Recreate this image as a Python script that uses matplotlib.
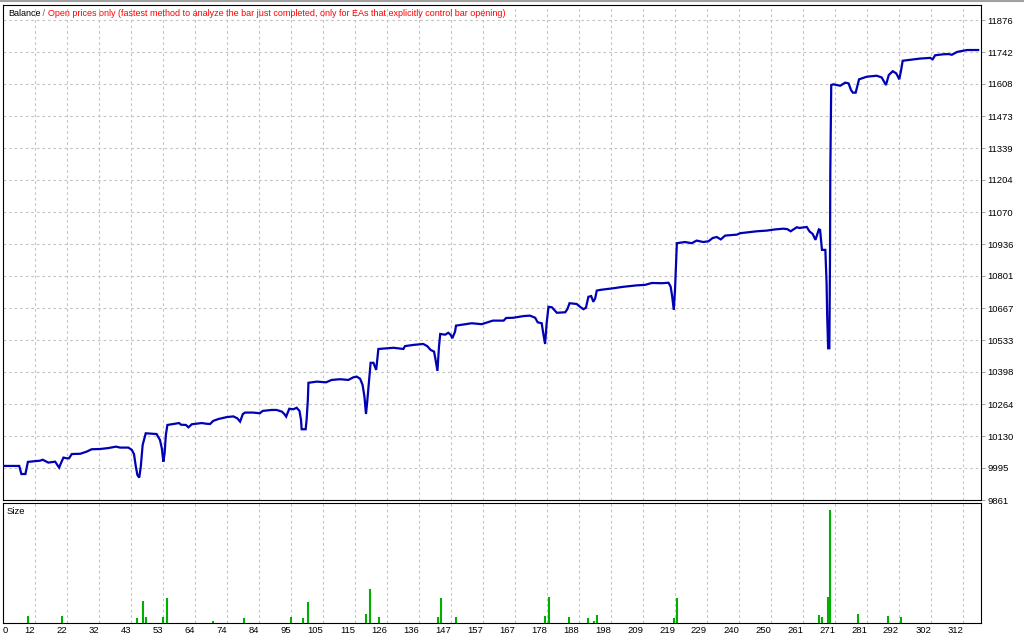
import matplotlib
matplotlib.use("Agg")
import matplotlib.pyplot as plt
from matplotlib.lines import Line2D
from matplotlib import font_manager

# ---------------- data ----------------
trade_idx = [0, 3.9, 6.9, 7.6, 8.9, 9.7, 13.6, 14.5, 16.3, 18.5, 19.8, 20.4, 21.2, 22.3, 23.0, 23.9,
             26.6, 28.7, 30.3, 33.0, 35.7, 38.2, 39.5, 42.2, 43.3, 44.0, 44.6, 45.1, 45.7, 46.2,
             46.8, 47.8, 51.3, 52.4, 53.0, 53.5, 53.9, 54.3, 54.8, 56.7, 58.6, 59.2, 60.8, 61.6,
             62.7, 65.9, 67.5, 68.6, 69.6, 71.3, 74.0, 76.1, 77.4, 78.3, 79.2, 79.9, 82.6, 84.7,
             85.6, 88.5, 90.1, 91.8, 92.6, 93.2, 94.2, 95.5, 96.6, 97.5, 98.0, 98.2, 99.5, 99.8,
             100.2, 100.4, 103.1, 106.1, 107.9, 110.6, 113.3, 114.9, 116.0, 117.1, 117.9, 118.5,
             119.0, 119.4, 120.1, 120.5, 121.4, 122.3, 122.7, 123.0, 126.2, 127.9, 131.1, 131.6,
             134.3, 137.5, 138.8, 139.9, 141.0, 141.5, 142.1, 142.6, 143.0, 144.6, 145.6, 146.4,
             146.9, 147.8, 148.1, 153.2, 156.4, 157.8, 160.0, 163.5, 164.3, 166.6, 169.9, 172.0,
             173.7, 174.5, 175.8, 176.3, 176.9, 177.4, 178.0, 179.1, 180.7, 183.4, 184.1, 184.8,
             187.1, 188.2, 189.3, 190.1, 190.9, 191.8, 192.5, 193.1, 193.6, 194.7, 199.0, 202.2,
             206.5, 209.2, 211.4, 214.6, 216.8, 217.5, 218.0, 218.5, 218.9, 219.5, 222.1, 224.3,
             225.9, 228.0, 229.7, 231.1, 232.4, 233.7, 235.1, 238.9, 240.0, 245.3, 248.6, 251.3,
             254.0, 255.2, 256.3, 257.2, 258.3, 259.1, 261.5, 262.4, 263.4, 264.3, 265.4, 265.8,
             266.4, 267.5, 267.9, 268.1, 268.4, 268.8, 269.0, 269.1, 269.4, 270.1, 272.3, 273.9,
             275.0, 275.8, 276.4, 277.3, 278.4, 280.9, 284.1, 285.7, 286.5, 287.1, 288.0, 289.3,
             290.4, 291.0, 291.4, 292.0, 292.5, 294.3, 298.1, 301.4, 302.2, 303.0, 305.6, 307.3,
             308.4, 310.1, 311.7, 313.3, 316.9]
balance = [10004, 10004, 10004, 9970, 9970, 10021, 10026, 10030, 10018, 10022, 9997, 10016, 10039, 10036, 10036, 10054,
           10055, 10064, 10074, 10075, 10079, 10085, 10081, 10081, 10071, 10054, 10001, 9966, 9955, 10001,
           10092, 10141, 10138, 10113, 10078, 10022, 10057, 10134, 10176, 10180, 10184, 10177, 10176, 10166,
           10179, 10184, 10181, 10180, 10193, 10201, 10209, 10212, 10204, 10190, 10222, 10228, 10228, 10225,
           10235, 10239, 10239, 10232, 10222, 10211, 10244, 10242, 10248, 10235, 10197, 10158, 10158, 10197,
           10281, 10353, 10358, 10355, 10365, 10368, 10365, 10376, 10379, 10370, 10344, 10295,
           10222, 10274, 10379, 10437, 10437, 10407, 10456, 10495, 10498, 10500, 10495, 10507,
           10512, 10516, 10507, 10491, 10484, 10449, 10403, 10505, 10558, 10555, 10563, 10554,
           10540, 10568, 10593, 10603, 10599, 10605, 10614, 10614, 10625, 10626, 10633, 10635,
           10626, 10607, 10603, 10561, 10516, 10603, 10672, 10670, 10647, 10649, 10662, 10687,
           10684, 10672, 10662, 10668, 10714, 10717, 10693, 10708, 10740, 10743, 10750, 10756,
           10762, 10764, 10772, 10771, 10773, 10756, 10714, 10659, 10743, 10939, 10944, 10939,
           10950, 10944, 10947, 10961, 10965, 10955, 10971, 10975, 10981, 10989, 10992, 10997,
           11000, 10998, 10989, 10997, 11006, 11003, 11007, 10988, 10978, 10953, 10997, 10995,
           10911, 10911, 10771, 10631, 10498, 10498, 10868, 11232, 11603, 11606, 11600, 11613,
           11610, 11582, 11571, 11571, 11627, 11638, 11642, 11635, 11617, 11603, 11645, 11661,
           11652, 11638, 11627, 11666, 11705, 11708, 11714, 11717, 11711, 11728, 11732, 11733,
           11730, 11742, 11746, 11750, 11750]

size_trade = [9.8, 20.8, 44.9, 46.8, 47.8, 53.5, 54.8, 69.6, 79.5, 94.7, 98.5, 100.4, 118.9, 120.4,
              123.3, 142.2, 143.2, 148.2, 177.0, 178.1, 184.6, 190.8, 192.8, 193.7, 218.6, 219.6,
              265.5, 266.4, 268.2, 269.1, 278.2, 287.9, 292.1]
size_lots = [0.07, 0.07, 0.05, 0.22, 0.06, 0.06, 0.25, 0.02, 0.05, 0.06, 0.05, 0.21, 0.09, 0.34,
             0.06, 0.06, 0.25, 0.06, 0.07, 0.26, 0.06, 0.05, 0.02, 0.08, 0.05, 0.25,
             0.08, 0.06, 0.26, 1.13, 0.09, 0.07, 0.06]

y_tick_labels = ["9861", "9995", "10130", "10264", "10398", "10533", "10667", "10801",
                 "10936", "11070", "11204", "11339", "11473", "11608", "11742", "11876"]
x_tick_labels = ["0", "12", "22", "32", "43", "53", "64", "74", "84", "95", "105", "115", "126",
                 "136", "147", "157", "167", "178", "188", "198", "209", "219", "229", "240",
                 "250", "261", "271", "281", "292", "302", "312"]

title_left = "Balance"
title_sep = " / "
title_right = "Open prices only (fastest method to analyze the bar just completed, only for EAs that explicitly control bar opening)"

# ---------------- style ----------------
names = {f.name for f in font_manager.fontManager.ttflist}
FONT = "Liberation Sans" if "Liberation Sans" in names else "DejaVu Sans"
plt.rcParams["font.family"] = [FONT, "DejaVu Sans"]

W, H = 1024, 640
fig = plt.figure(figsize=(W / 100, H / 100), dpi=100)
fig.patch.set_facecolor("white")

def rect(l, t, r, b):
    return [l / W, 1 - b / H, (r - l) / W, (b - t) / H]

ax = fig.add_axes(rect(3, 5, 981, 500))
ax2 = fig.add_axes(rect(3, 503, 981, 623))

# x scale: grid every 300/29 trades, first labelled grid at 12
step = 300 / 29
x0 = 12 - step
px_per_trade = 32 / step
x1 = x0 + 978 / px_per_trade
xticks = [x0 + k * step for k in range(len(x_tick_labels))]

# y scale
ylo, yhi_tick = 9861, 11876
ystep = (yhi_tick - ylo) / 15
yticks = [ylo + k * ystep for k in range(len(y_tick_labels))]
ytop = ylo + 495 / 32 * ystep

grid_kw = dict(color="#C4C4C4", linestyle=(0, (2.4, 2.6)), linewidth=0.8)

for a in (ax, ax2):
    a.set_xlim(x0, x1)
    for s in a.spines.values():
        s.set_color("black")
        s.set_linewidth(0.8)
    a.set_facecolor("white")
    a.set_axisbelow(True)

# main balance panel
ax.plot(trade_idx, balance, color="#0000B4", linewidth=1.6, solid_joinstyle="miter", zorder=3)
ax.set_ylim(ylo, ytop)
ax.yaxis.tick_right()
ax.set_yticks(yticks, y_tick_labels)
ax.tick_params(axis="y", length=3, width=0.7, color="#A0A0A0", pad=1.5, labelsize=6.8, labelcolor="black")
ax.set_xticks(xticks[1:])
ax.tick_params(axis="x", length=0, labelbottom=False)
ax.grid(True, **grid_kw)

t1 = ax.text(5 / 978, 1 - 8 / 495, title_left, transform=ax.transAxes, fontsize=6.5,
             color="black", va="center", ha="left")
t2 = ax.annotate(title_sep, xy=(1, 0.5), xycoords=t1, va="center", ha="left",
                 fontsize=6.5, color="#606060")
ax.annotate(title_right, xy=(1, 0.5), xycoords=t2, va="center", ha="left",
            fontsize=6.5, color="#FF0000")

# size panel
ax2.vlines(size_trade, 0, size_lots, color="#00B000", linewidth=1.5, zorder=3)
ax2.set_ylim(0, 1.20)
ax2.set_yticks([])
ax2.set_xticks(xticks, x_tick_labels)
ax2.tick_params(axis="x", length=0, pad=2.5, labelsize=6.8, labelcolor="black")
for i, lab in enumerate(ax2.get_xticklabels()):
    lab.set_horizontalalignment("left" if i == 0 else "right")
ax2.grid(True, axis="x", **grid_kw)
ax2.text(4 / 978, 1 - 8 / 120, "Size", transform=ax2.transAxes, fontsize=6.8,
         color="black", va="center", ha="left")

fig.add_artist(Line2D([0, 1], [1 - 1 / H, 1 - 1 / H], color="#A0A0A0", linewidth=1.5))

fig.savefig("out.png", dpi=100, facecolor="white")
